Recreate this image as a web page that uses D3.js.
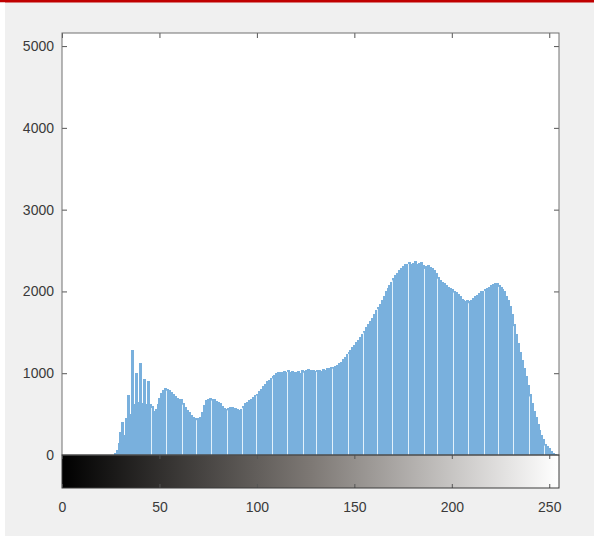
<!DOCTYPE html>
<html>
<head>
<meta charset="utf-8">
<script src="https://cdn.jsdelivr.net/npm/d3@7"></script>
<style>
  body { margin: 0; background: #f0f0f0; }
  svg { display: block; }
  .tick text { font-family: "Liberation Sans", Arial, sans-serif; font-size: 14px; fill: #3a3a3a; }
</style>
</head>
<body>
<svg width="594" height="536"></svg>
<script>
// histogram counts, one per gray level 0..255
const counts = [
  0,0,0,0,0,0,0,0,0,0, 0,0,0,0,0,0,0,0,0,0, 0,0,0,0,0,0,0,20,60,150,
  280,400,250,450,730,500,1280,620,1000,650, 1120,640,930,620,900,620,600,540,560,620,
  700,760,800,820,810,790,770,740,720,700, 690,680,640,590,550,520,490,470,455,450,
  450,460,520,610,670,690,700,690,680,660, 650,630,600,570,560,570,590,590,580,570,
  560,550,560,600,630,650,670,690,710,730, 750,780,810,840,870,900,920,940,960,980,
  1000,1010,1020,1010,1030,1020,1040,1020,1030,1010, 1020,1030,1000,1040,1030,1040,1050,1040,1030,1040,
  1030,1040,1040,1030,1050,1040,1060,1060,1070,1080, 1090,1100,1120,1140,1170,1200,1230,1260,1290,1320,
  1350,1380,1410,1440,1480,1520,1560,1600,1640,1680, 1720,1770,1810,1850,1900,1950,2000,2040,2080,2120,
  2160,2200,2230,2260,2290,2310,2330,2340,2360,2340, 2350,2370,2340,2350,2360,2320,2300,2310,2320,2300,
  2290,2260,2220,2180,2140,2120,2100,2080,2060,2040, 2030,2010,1990,1970,1940,1910,1890,1880,1900,1880,
  1900,1920,1940,1960,1980,2000,2010,2030,2040,2060, 2080,2090,2100,2100,2080,2060,2030,2000,1950,1890,
  1820,1720,1600,1480,1370,1260,1160,1060,970,860, 740,640,540,460,380,300,240,190,140,110,
  80,55,30,15,5,0
];
const xTicks = [0, 50, 100, 150, 200, 250];
const yTicks = [0, 1000, 2000, 3000, 4000, 5000];

const svg = d3.select("svg");

// frame of the screenshot
svg.append("rect").attr("x", 0).attr("y", 0).attr("width", 594).attr("height", 2.5).attr("fill", "#c00000");
svg.append("rect").attr("x", 0).attr("y", 2.5).attr("width", 5).attr("height", 533.5).attr("fill", "#ffffff");

const mLeft = 62, mRight = 559, mTop = 33, mBottom = 455, cbBottom = 488;

const x = d3.scaleLinear().domain([0, 255]).range([mLeft, mRight]);
const y = d3.scaleLinear().domain([0, 5160]).range([mBottom, mTop]);
const step = x(1) - x(0);

// plot area
svg.append("rect")
    .attr("x", mLeft).attr("y", mTop)
    .attr("width", mRight - mLeft).attr("height", mBottom - mTop)
    .attr("fill", "#ffffff");

svg.append("clipPath").attr("id", "clip")
  .append("rect").attr("x", mLeft).attr("y", mTop).attr("width", mRight - mLeft).attr("height", mBottom - mTop);

const bars = svg.append("g").attr("clip-path", "url(#clip)");

bars.selectAll("rect")
  .data(counts)
  .join("rect")
    .attr("x", (d, i) => x(i) - step / 2)
    .attr("width", step + 1)
    .attr("y", d => y(d))
    .attr("height", d => y(0) - y(d))
    .attr("fill", "#79b0dd")
    .attr("shape-rendering", "crispEdges");

// the light seams that show up every few bins in the screenshot
const seams = new Set(d3.range(-4, 23).map(k => Math.round(77 + 7.75 * k)));
bars.selectAll("line")
  .data(counts.map((d, i) => ({ d, i })).filter(o => o.d > 0 && seams.has(o.i)))
  .join("line")
    .attr("x1", o => Math.round(x(o.i) - step / 2) + 0.5)
    .attr("x2", o => Math.round(x(o.i) - step / 2) + 0.5)
    .attr("y1", o => y(o.d) + 2)
    .attr("y2", mBottom)
    .attr("stroke", "#e2f1fb")
    .attr("stroke-width", 1);

// axes with inward ticks on all four sides
const tickLen = 5;
svg.append("g")
    .attr("transform", `translate(${mLeft},0)`)
    .call(d3.axisLeft(y).tickValues(yTicks).tickSize(-tickLen).tickPadding(8).tickFormat(d3.format("d")));
svg.append("g")
    .attr("transform", `translate(${mRight},0)`)
    .call(d3.axisRight(y).tickValues(yTicks).tickSize(-tickLen).tickFormat(""));
svg.append("g")
    .attr("transform", `translate(0,${mTop})`)
    .call(d3.axisTop(x).tickValues(xTicks).tickSize(-tickLen).tickFormat(""));

// gray colorbar under the histogram
const grad = svg.append("defs").append("linearGradient").attr("id", "gray");
grad.append("stop").attr("offset", "0%").attr("stop-color", "#000000");
grad.append("stop").attr("offset", "50%").attr("stop-color", "#7d7874");
grad.append("stop").attr("offset", "100%").attr("stop-color", "#ffffff");

svg.append("rect")
    .attr("x", mLeft).attr("y", mBottom)
    .attr("width", mRight - mLeft).attr("height", cbBottom - mBottom)
    .attr("fill", "url(#gray)");

svg.append("g")
    .attr("transform", `translate(0,${mBottom})`)
    .call(d3.axisBottom(x).tickValues(xTicks).tickSize(4).tickFormat(""));
svg.append("g")
    .attr("transform", `translate(0,${cbBottom})`)
    .call(d3.axisTop(x).tickValues(xTicks).tickSize(4).tickFormat(""));
svg.append("g")
    .attr("transform", `translate(0,${cbBottom})`)
    .call(d3.axisBottom(x).tickValues(xTicks).tickSize(0).tickPadding(14).tickFormat(d3.format("d")));

// box lines
svg.selectAll(".domain").remove();
svg.selectAll(".tick line").attr("stroke", "#555");
svg.append("rect")
    .attr("x", mLeft).attr("y", mTop)
    .attr("width", mRight - mLeft).attr("height", mBottom - mTop)
    .attr("fill", "none").attr("stroke", "#707070");
svg.append("rect")
    .attr("x", mLeft).attr("y", mBottom)
    .attr("width", mRight - mLeft).attr("height", cbBottom - mBottom)
    .attr("fill", "none").attr("stroke", "#3a3a3a");
</script>
</body>
</html>
